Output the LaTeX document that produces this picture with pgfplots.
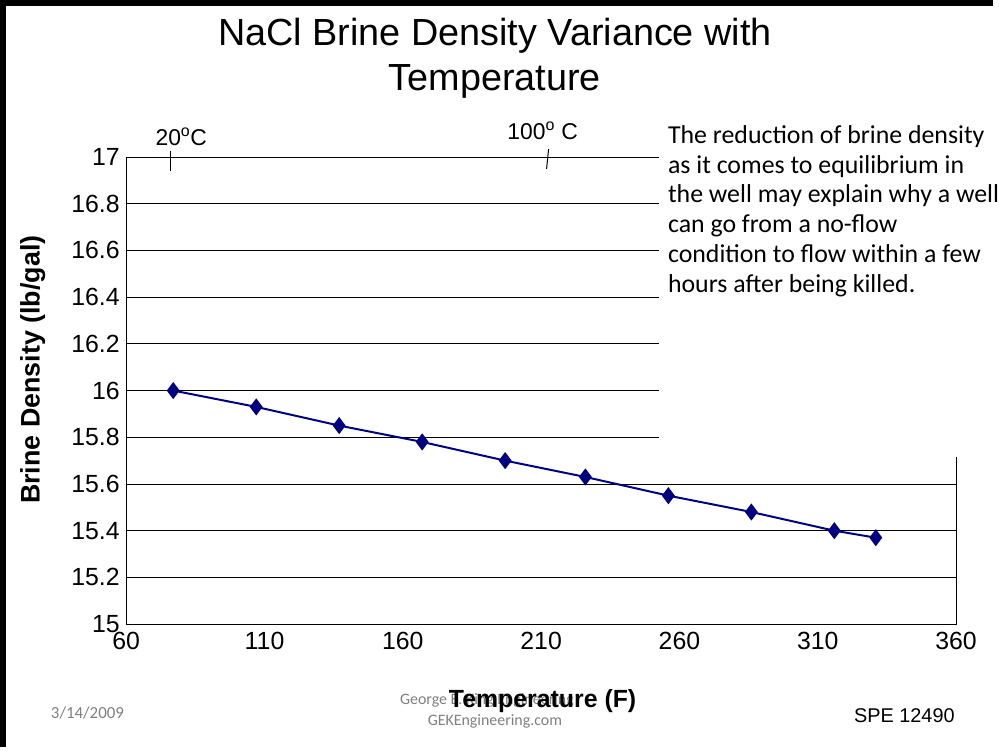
\documentclass[border=0pt]{standalone}
\usepackage{pgfplots}
\pgfplotsset{compat=1.18}
\usepackage{fontspec}
\setmainfont{Liberation Sans}
\newfontfamily\calfont{Carlito}
\begin{document}
\begin{tikzpicture}[x=1pt,y=1pt]
\fill[white] (0,0) rectangle (999,752);
\begin{axis}[at={(127pt,124pt)},anchor=south west,scale only axis,
 width=835pt,height=470pt,xmin=60,xmax=360,ymin=15,ymax=17,
 xtick={60,110,...,360},ytick={15,15.2,...,17.01},
 yticklabel style={/pgf/number format/fixed,/pgf/number format/precision=1},
 /pgf/number format/assume math mode=true,
 ymajorgrids,grid style={black,line width=0.8pt},
 axis line style={black,line width=0.8pt},
 tick style={black,line width=0.8pt},major tick length=6pt,
 xtick style={draw=none},
 ticklabel style={font=\fontsize{25}{28}\selectfont},
 xticklabel style={yshift=-5pt},yticklabel style={xshift=-3pt},
 clip=false]
\addplot[color={rgb,255:red,0;green,0;blue,128},line width=2pt,mark=diamond*,mark size=7pt] coordinates {
(77,16.0)(107,15.93)(137,15.85)(167,15.78)(197,15.70)(226,15.63)(256,15.55)(286,15.48)(316,15.40)(331,15.37)};
\end{axis}
% cover box over gridlines
\fill[white] (663,292) rectangle (999,630);
\draw[black,line width=0.8pt] (962,124) -- (962,292);
% border
\draw[black,line width=6pt] (3,0) -- (3,749) -- (999,749);
% title
\node[font=\fontsize{38}{42}\selectfont] at (498,716) {NaCl Brine Density Variance with};
\node[font=\fontsize{38}{42}\selectfont] at (498,670) {Temperature};
% degree labels
\node[font=\fontsize{23}{26}\selectfont,anchor=base west] at (153,606) {20$^{\rm o}$C};
\node[font=\fontsize{23}{26}\selectfont,anchor=base west] at (507,612) {100$^{\rm o}$ C};
\draw[black,line width=1pt] (172,600) -- (172,580);
\draw[black,line width=1pt] (552,602) -- (550,582);
% text box
\node[font=\calfont\fontsize{26}{30}\selectfont,anchor=north west,align=left,inner sep=0pt] at (672,626)
 {The reduction of brine density\\as it comes to equilibrium in\\the well may explain why a well\\can go from a no-flow\\condition to flow within a few\\hours after being killed.};
% axis labels
\node[font=\bfseries\fontsize{27}{30}\selectfont,rotate=90] at (33,380) {Brine Density (lb/gal)};
\node[font=\calfont\fontsize{16}{18}\selectfont,text=gray] at (490,47) {George E. King Engineering};
\node[font=\calfont\fontsize{16}{18}\selectfont,text=gray] at (498,26) {GEKEngineering.com};
\node[font=\bfseries\fontsize{25}{28}\selectfont] at (546,47) {Temperature (F)};
\node[font=\calfont\fontsize{17}{19}\selectfont,text=gray] at (88,35) {3/14/2009};
\node[font=\fontsize{20}{22}\selectfont] at (910,32) {SPE 12490};
\end{tikzpicture}
\end{document}
